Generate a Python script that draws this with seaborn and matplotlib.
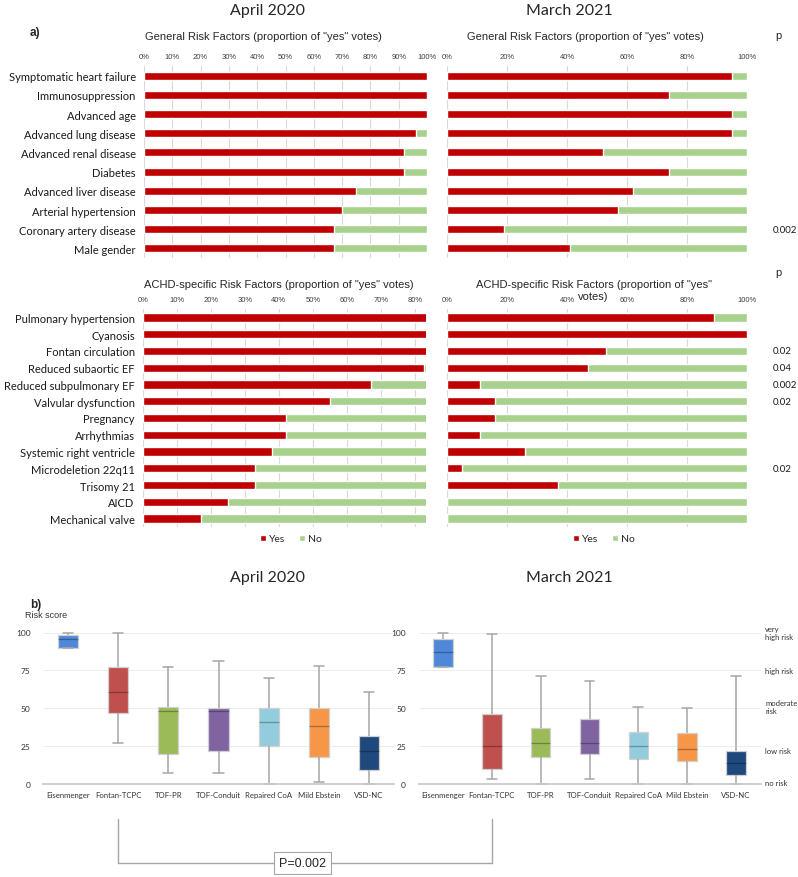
import numpy as np
import pandas as pd
import matplotlib
matplotlib.use("Agg")
import matplotlib.pyplot as plt
import seaborn as sns
from matplotlib.patches import Patch
from matplotlib.lines import Line2D

# ---- data ----
general_factors = ["Symptomatic heart failure", "Immunosuppression", "Advanced age",
                   "Advanced lung disease", "Advanced renal disease", "Diabetes",
                   "Advanced liver disease", "Arterial hypertension",
                   "Coronary artery disease", "Male gender"]
general_yes_2020 = [100, 100, 100, 96, 92, 92, 75, 70, 67, 67]
general_yes_2021 = [95, 74, 95, 95, 52, 74, 62, 57, 19, 41]
general_p = ["", "", "", "", "", "", "", "", "0.002", ""]

achd_factors = ["Pulmonary hypertension", "Cyanosis", "Fontan circulation",
                "Reduced subaortic EF", "Reduced subpulmonary EF", "Valvular dysfunction",
                "Pregnancy", "Arrhythmias", "Systemic right ventricle",
                "Microdeletion 22q11", "Trisomy 21", "AICD", "Mechanical valve"]
achd_yes_2020 = [100, 100, 100, 82.6, 67, 55, 42, 42, 38, 33, 33, 25, 17]
achd_yes_2021 = [89, 100, 53, 47, 11, 16, 16, 11, 26, 5, 37, 0, 0]
achd_p = ["", "", "0.02", "0.04", "0.002", "0.02", "", "", "", "0.02", "", "", ""]

lesions = ["Eisenmenger", "Fontan-TCPC", "TOF-PR", "TOF-Conduit",
           "Repaired CoA", "Mild Ebstein", "VSD-NC"]
# five number summaries (min, q1, median, q3, max)
min_2020 = [90, 27, 7, 7, 0, 1, 0]
q1_2020 = [90, 47, 20, 22, 25, 18, 9]
med_2020 = [96, 61, 48, 48, 41, 38, 22]
q3_2020 = [98.5, 77, 51, 50, 50, 50, 32]
max_2020 = [100, 100, 77, 81, 70, 78, 61]

min_2021 = [77, 3, 0, 3, 0, 0, 0]
q1_2021 = [77, 10, 17.5, 20, 16.5, 15.5, 6]
med_2021 = [87, 25, 27, 27, 25, 23, 14]
q3_2021 = [95.5, 46, 37, 43, 34, 33.5, 22]
max_2021 = [100, 99, 71, 68, 51, 50, 71]

risk_levels = ["very\nhigh risk", "high risk", "moderate\nrisk", "low risk", "no risk"]
risk_level_scores = [100, 75, 51, 22, 1]

RED = "#C00000"
GREEN = "#A9D18E"
box_colors = ["#4F88D8", "#C0504D", "#9BBB59", "#8064A2", "#93CDDD", "#F79646", "#1F497D"]

sns.set_theme(style="white")
plt.rcParams["font.family"] = ["Lato", "DejaVu Sans"]

W, H = 798, 878
fig = plt.figure(figsize=(W / 100, H / 100), dpi=100)


def px_axes(x0, y0, x1, y1):
    return fig.add_axes([x0 / W, 1 - y1 / H, (x1 - x0) / W, (y1 - y0) / H])


def ftext(x, y, s, **kw):
    kw.setdefault("ha", "center")
    kw.setdefault("va", "center")
    return fig.text(x / W, 1 - y / H, s, **kw)


def stacked_bars(ax, factors, yes, xmax, step, bar_w, show_labels):
    df = pd.DataFrame({"factor": factors, "total": 100.0, "yes": yes})
    sns.barplot(data=df, x="total", y="factor", color=GREEN, saturation=1,
                width=bar_w, errorbar=None, ax=ax)
    sns.barplot(data=df, x="yes", y="factor", color=RED, saturation=1,
                width=bar_w, errorbar=None, ax=ax)
    ax.set_xlim(0, xmax)
    ticks = np.arange(0, xmax + 0.01, step)
    ax.set_xticks(ticks)
    ax.set_xticklabels([f"{t:.0f}%" for t in ticks], fontsize=5.5,
                       family=["Liberation Sans"], color="#404040")
    ax.xaxis.tick_top()
    ax.tick_params(length=0, pad=4)
    ax.grid(axis="x", color="#d9d9d9", lw=0.8)
    ax.set_axisbelow(True)
    for s in ax.spines.values():
        s.set_visible(False)
    ax.set_xlabel("")
    ax.set_ylabel("")
    if show_labels:
        ax.tick_params(axis="y", labelsize=8, labelcolor="#1a1a1a", pad=6)
    else:
        ax.set_yticklabels([])


def p_column(ax, pvals):
    tr = ax.get_yaxis_transform()
    for i, p in enumerate(pvals):
        if p:
            ax.text(1.087, i, p, transform=tr, ha="left", va="center", fontsize=7,
                    color="#1a1a1a")


# ---- a) bar charts ----
ax_g20 = px_axes(144, 67, 427, 259)
stacked_bars(ax_g20, general_factors, general_yes_2020, 100, 10, 0.42, True)
ax_g21 = px_axes(447, 67, 747, 259)
stacked_bars(ax_g21, general_factors, general_yes_2021, 100, 20, 0.42, False)
p_column(ax_g21, general_p)

ax_a20 = px_axes(143, 310, 426, 528)
stacked_bars(ax_a20, achd_factors, achd_yes_2020, 83.3, 10, 0.5, True)
ax_a21 = px_axes(447, 310, 747, 528)
stacked_bars(ax_a21, achd_factors, achd_yes_2021, 100, 20, 0.5, False)
p_column(ax_a21, achd_p)

title_font = ["Liberation Sans"]
ftext(267, 11, "April 2020", fontsize=11.5)
ftext(569, 11, "March 2021", fontsize=11.5)
ftext(30, 33, "a)", ha="left", fontsize=8.5, fontweight="bold", family=title_font)
ftext(263, 37, 'General Risk Factors (proportion of "yes" votes)', fontsize=8, family=title_font)
ftext(585, 37, 'General Risk Factors (proportion of "yes" votes)', fontsize=8, family=title_font)
ftext(279, 285, 'ACHD-specific Risk Factors (proportion of "yes" votes)', fontsize=8, family=title_font)
ftext(594, 285, 'ACHD-specific Risk Factors (proportion of "yes"', fontsize=8, family=title_font)
ftext(593, 297, 'votes)', fontsize=8, family=title_font)
ftext(778, 36, "p", fontsize=8, family=title_font)
ftext(778, 273, "p", fontsize=8, family=title_font)

handles = [Patch(facecolor=RED, label="Yes"), Patch(facecolor=GREEN, label="No")]
for cx in (291, 604):
    fig.legend(handles=handles, loc="center", bbox_to_anchor=(cx / W, 1 - 540 / H),
               ncol=2, frameon=False, fontsize=7.5, handlelength=0.55,
               handleheight=0.55, handletextpad=0.35, columnspacing=1.3)

# ---- b) box plots ----


def five_num_frame(mins, q1s, meds, q3s, maxs):
    rows = []
    for name, a, b, c, d, e in zip(lesions, mins, q1s, meds, q3s, maxs):
        for v in (a, b, c, d, e):
            rows.append({"lesion": name, "score": v})
    return pd.DataFrame(rows)


def risk_boxes(ax, df):
    sns.boxplot(data=df, x="lesion", y="score", hue="lesion", order=lesions,
                hue_order=lesions, palette=box_colors, saturation=1, legend=False,
                whis=np.inf, width=0.4, linewidth=0.9, ax=ax,
                boxprops={"edgecolor": "#d0d0d0"},
                medianprops={"color": (0, 0, 0, 0.3), "linewidth": 0.9},
                whiskerprops={"color": "#a6a6a6", "linewidth": 1.1},
                capprops={"color": "#a6a6a6", "linewidth": 1.1})
    ax.set_ylim(0, 100)
    ax.set_xlim(-0.5, 6.5)
    ax.set_yticks([0, 25, 50, 75, 100])
    ax.grid(axis="y", color="#ececec", lw=0.7)
    ax.set_axisbelow(True)
    for s in ("top", "right", "left"):
        ax.spines[s].set_visible(False)
    ax.spines["bottom"].set_color("#c8c8c8")
    ax.tick_params(length=0, labelsize=6, labelcolor="#333333")
    ax.tick_params(axis="x", labelsize=5.6, pad=5)
    ax.tick_params(axis="y", pad=9)
    ax.set_xlabel("")
    ax.set_ylabel("")
    for art in ax.get_children():
        if isinstance(art, (Line2D,)) or hasattr(art, "get_facecolor"):
            try:
                art.set_clip_on(False)
            except Exception:
                pass


ax_b20 = px_axes(43, 633.5, 394, 785)
risk_boxes(ax_b20, five_num_frame(min_2020, q1_2020, med_2020, q3_2020, max_2020))
ax_b21 = px_axes(418.5, 633.5, 760.5, 785)
risk_boxes(ax_b21, five_num_frame(min_2021, q1_2021, med_2021, q3_2021, max_2021))

tr = ax_b21.get_yaxis_transform()
for lab, v in zip(risk_levels, risk_level_scores):
    ax_b21.text(1.014, v, lab, transform=tr, ha="left", va="center", fontsize=5.5,
                color="#333333", linespacing=1.25)

ftext(267, 578, "April 2020", fontsize=11.5)
ftext(569, 578, "March 2021", fontsize=11.5)
ftext(30, 605, "b)", ha="left", fontsize=8.5, fontweight="bold", family=title_font)
ftext(25, 616, "Risk score", ha="left", fontsize=6.5, color="#333333", family=title_font)

# bracket linking Fontan-TCPC in both years
inv = fig.transFigure.inverted()
xa = inv.transform(ax_b20.transData.transform((1, 0)))[0]
xb = inv.transform(ax_b21.transData.transform((1, 0)))[0]
y_top, y_bot = 1 - 820 / H, 1 - 864 / H
for seg in ([(xa, xa), (y_top, y_bot)], [(xa, xb), (y_bot, y_bot)], [(xb, xb), (y_top, y_bot)]):
    fig.add_artist(Line2D(seg[0], seg[1], transform=fig.transFigure,
                          color="#a6a6a6", lw=1.0, zorder=1))
fig.text((xa + xb) / 2 - 0.0035, y_bot, "P=0.002", ha="center", va="center", fontsize=9,
         family=title_font, zorder=5,
         bbox=dict(boxstyle="square,pad=0.4", fc="white", ec="#a6a6a6", lw=0.8))

fig.savefig("out.png", dpi=100)
